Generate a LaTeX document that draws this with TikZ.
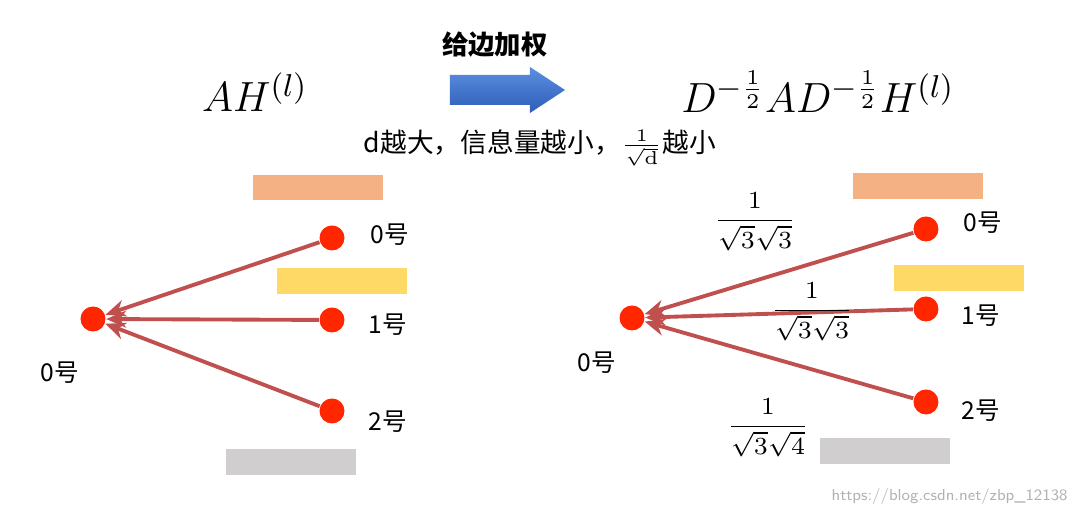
\documentclass[tikz,border=0pt]{standalone}
\usepackage{amsmath}
\usepackage{fontspec}
\newfontfamily\cjk{Noto Sans CJK SC}
\usetikzlibrary{arrows.meta}
\definecolor{dotred}{HTML}{FF2600}
\definecolor{edgered}{HTML}{C0504D}
\definecolor{barorange}{HTML}{F4B183}
\definecolor{baryellow}{HTML}{FFD966}
\definecolor{bargray}{HTML}{D0CECE}
\definecolor{arrtop}{HTML}{5B8FE0}
\definecolor{arrbot}{HTML}{2F5DB8}
\tikzset{
  dot/.style={circle,fill=dotred,inner sep=0pt,minimum size=0.25cm},
  lbl/.style={font=\cjk\fontsize{7}{8}\selectfont},
  edge/.style={draw=edgered,line width=1.1pt,-{Stealth[length=0.2cm,width=0.17cm]}},
  frac/.style={font=\fontsize{7.5}{9}\selectfont},
}
\begin{document}
\begin{tikzpicture}[y=-1cm]
\useasboundingbox (0,0) rectangle (10.87,5.18);
% header
\node[font=\cjk\bfseries\fontsize{7.5}{9}\selectfont] (title) at (4.95,0.45) {给边加权};
\shade[top color=arrtop,bottom color=arrbot] (4.5,0.75) -- (5.3,0.75) -- (5.3,0.67) -- (5.65,0.9)
  -- (5.3,1.13) -- (5.3,1.05) -- (4.5,1.05) -- cycle;
\node[font=\fontsize{13}{15}\selectfont] (lhs) at (2.55,0.92) {$AH^{(l)}$};
\node[font=\fontsize{13}{15}\selectfont] (rhs) at (8.18,0.92) {$D^{-\frac{1}{2}}AD^{-\frac{1}{2}}H^{(l)}$};
\node[font=\cjk\fontsize{7.6}{9}\selectfont] (note) at (5.4,1.48) {d越大，信息量越小，$\frac{1}{\sqrt{\mathrm{d}}}$越小};
% left graph
\fill[barorange] (2.53,1.75) rectangle (3.83,2.00);
\fill[baryellow] (2.77,2.68) rectangle (4.07,2.94);
\fill[bargray] (2.26,4.49) rectangle (3.56,4.75);
\node[dot] (l0) at (0.93,3.19) {};
\node[dot] (la) at (3.32,2.38) {};
\node[dot] (lb) at (3.32,3.20) {};
\node[dot] (lc) at (3.32,4.11) {};
\node[lbl] at (0.6,3.73) {0号};
\node[lbl] at (3.9,2.35) {0号};
\node[lbl] at (3.88,3.25) {1号};
\node[lbl] at (3.88,4.22) {2号};
\foreach \n in {la,lb,lc} \draw[edge] (\n) -- (l0);
% right graph
\fill[barorange] (8.53,1.73) rectangle (9.83,1.99);
\fill[baryellow] (8.94,2.65) rectangle (10.24,2.91);
\fill[bargray] (8.20,4.38) rectangle (9.50,4.64);
\node[dot] (r0) at (6.32,3.18) {};
\node[dot] (ra) at (9.26,2.29) {};
\node[dot] (rb) at (9.26,3.09) {};
\node[dot] (rc) at (9.26,4.02) {};
\node[lbl] at (5.97,3.63) {0号};
\node[lbl] at (9.83,2.23) {0号};
\node[lbl] at (9.81,3.16) {1号};
\node[lbl] at (9.81,4.11) {2号};
\foreach \n in {ra,rb,rc} \draw[edge] (\n) -- (r0);
\node[frac] at (7.55,2.22) {$\dfrac{1}{\sqrt{3}\sqrt{3}}$};
\node[frac] at (8.12,3.12) {$\dfrac{1}{\sqrt{3}\sqrt{3}}$};
\node[frac] at (7.68,4.28) {$\dfrac{1}{\sqrt{3}\sqrt{4}}$};
\node[font=\sffamily\fontsize{4.5}{5}\selectfont,text=gray!60,anchor=east] at (10.8,4.97) {https://blog.csdn.net/zbp\_12138};
\end{tikzpicture}
\end{document}
